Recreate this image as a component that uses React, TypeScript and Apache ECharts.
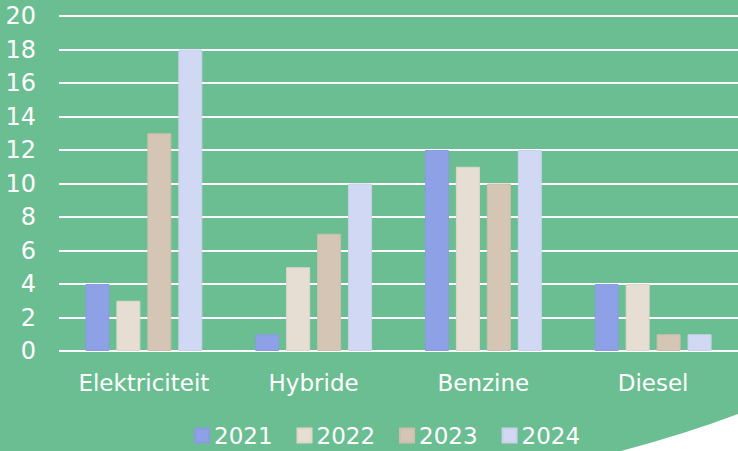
import React, { useEffect, useRef } from "react";
import * as echarts from "echarts";

const categories = ["Elektriciteit", "Hybride", "Benzine", "Diesel"];
const seriesNames = ["2021", "2022", "2023", "2024"];
const values2021 = [4, 1, 12, 4];
const values2022 = [3, 5, 11, 4];
const values2023 = [13, 7, 10, 1];
const values2024 = [18, 10, 12, 1];
const colors = ["#8fa1e6", "#e6ddd3", "#d4c5b4", "#d1d8f4"];
const borders = ["#8a9cdf", "#dfd6cc", "#cdbead", "#c9d1ec"];

let registered = false;

export default function App() {
  const ref = useRef<HTMLDivElement>(null);
  useEffect(() => {
    if (!ref.current) return;
    if (!registered) {
      echarts.graphic.registerShape(
        "cornerBlob",
        echarts.graphic.extendPath("M 621 451 Q 685 434 738 414 L 738 451 Z", {})
      );
      registered = true;
    }
    const chart = echarts.init(ref.current, null, { renderer: "svg" });
    const all = [values2021, values2022, values2023, values2024];
    chart.setOption({
      animation: false,
      backgroundColor: "#6abe91",
      textStyle: { fontFamily: "DejaVu Sans" },
      grid: { left: 59, right: -6, top: 16, bottom: 100, containLabel: false },
      legend: {
        data: seriesNames,
        top: 424,
        left: 194,
        padding: 0,
        itemWidth: 14,
        itemHeight: 14,
        itemGap: 24,
        icon: "rect",
        textStyle: { color: "#ffffff", fontSize: 23, fontFamily: "DejaVu Sans", padding: [0, 0, 0, 0] },
      },
      xAxis: {
        type: "category",
        data: categories,
        axisLine: { show: false },
        axisTick: { show: false },
        axisLabel: { color: "#ffffff", fontSize: 23, margin: 20, interval: 0, fontFamily: "DejaVu Sans" },
      },
      yAxis: {
        type: "value",
        min: 0,
        max: 20,
        interval: 2,
        axisLine: { show: false },
        axisTick: { show: false },
        splitLine: { lineStyle: { color: "#ffffff", width: 2 } },
        axisLabel: { color: "#ffffff", fontSize: 24, margin: 23, fontFamily: "DejaVu Sans" },
      },
      series: seriesNames.map((name, i) => ({
        name,
        type: "bar",
        data: all[i],
        barWidth: 24,
        barGap: "29%",
        itemStyle: { color: colors[i], borderColor: borders[i], borderWidth: 1 },
      })),
      graphic: [
        {
          type: "cornerBlob",
          x: 0,
          y: 0,
          style: { fill: "#ffffff" },
          z: 100,
        },
      ],
    });
    return () => chart.dispose();
  }, []);
  return <div ref={ref} style={{ width: 738, height: 451, position: "absolute", left: 0, top: 0 }} />;
}
